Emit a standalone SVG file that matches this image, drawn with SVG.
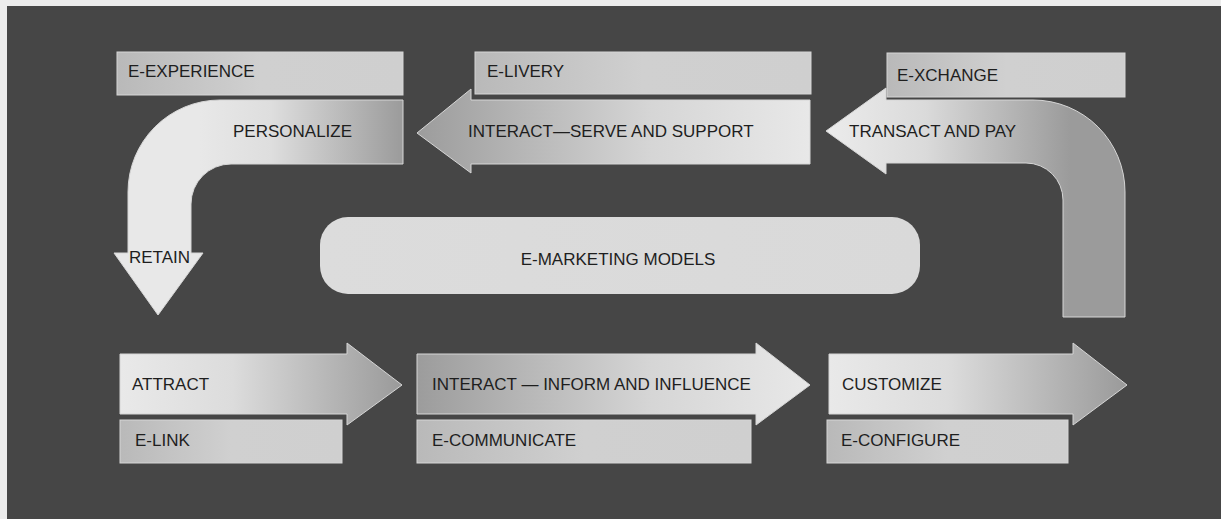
<svg xmlns="http://www.w3.org/2000/svg" width="1221" height="519" viewBox="0 0 1221 519">
<defs>
<style>
.lbl{font-family:"Liberation Sans",Arial,Helvetica,sans-serif;font-size:17px;fill:#1e1e1e}
.box{stroke:#d6d6d6;stroke-width:1}
</style>
<linearGradient id="gBox" x1="0" y1="0" x2="1" y2="0">
<stop offset="0" stop-color="#b9b9b9"/><stop offset="0.5" stop-color="#d0d0d0"/><stop offset="1" stop-color="#cfcfcf"/>
</linearGradient>
<linearGradient id="gLightDark" x1="0" y1="0" x2="1" y2="0">
<stop offset="0" stop-color="#e9e9e9"/><stop offset="0.4" stop-color="#dcdcdc"/><stop offset="1" stop-color="#9a9a9a"/>
</linearGradient>
<linearGradient id="gDarkLight" x1="0" y1="0" x2="1" y2="0">
<stop offset="0" stop-color="#9c9c9c"/><stop offset="0.6" stop-color="#d6d6d6"/><stop offset="1" stop-color="#e8e8e8"/>
</linearGradient>
<linearGradient id="gPers" gradientUnits="userSpaceOnUse" x1="200" y1="0" x2="403" y2="0">
<stop offset="0" stop-color="#e8e8e8"/><stop offset="0.35" stop-color="#dedede"/><stop offset="1" stop-color="#9b9b9b"/>
</linearGradient>
<linearGradient id="gTrans" gradientUnits="userSpaceOnUse" x1="830" y1="0" x2="1070" y2="0">
<stop offset="0" stop-color="#ebebeb"/><stop offset="0.4" stop-color="#dadada"/><stop offset="1" stop-color="#9b9b9b"/>
</linearGradient>
<linearGradient id="gModel" x1="0" y1="0" x2="1" y2="0">
<stop offset="0" stop-color="#dcdcdc"/><stop offset="1" stop-color="#d9d9d9"/>
</linearGradient>
</defs>
<rect x="0" y="0" width="1221" height="519" fill="#ececec"/>
<rect x="7" y="6" width="1214" height="513" fill="#464646"/>

<g id="connectors">
<g id="personalize-retain">
<path class="box" fill="url(#gPers)" d="M403,100 L220,100 A92,92 0 0 0 128,192 L128,253 L114,253 L158,315 L203,253 L191,253 L191,204 A40,40 0 0 1 231,164 L403,164 Z"/>
<text class="lbl" x="233" y="137">PERSONALIZE</text>
<text class="lbl" x="129" y="263">RETAIN</text>
</g>
<g id="interact-serve">
<path class="box" fill="url(#gDarkLight)" d="M417,133 L471,89 L471,100 L810,100 L810,164 L471,164 L471,173 Z"/>
<text class="lbl" x="468" y="137">INTERACT—SERVE AND SUPPORT</text>
</g>
<g id="transact-pay">
<path class="box" fill="url(#gTrans)" d="M826,131 L886,88 L886,100 L1033,100 A92,92 0 0 1 1125,192 L1125,317 L1063,317 L1063,200 A37,37 0 0 0 1026,163 L886,163 L886,174 Z"/>
<text class="lbl" x="849" y="137">TRANSACT AND PAY</text>
</g>
<g id="attract">
<path class="box" fill="url(#gLightDark)" d="M120,354 L347,354 L347,343 L402,385 L347,425 L347,414 L120,414 Z"/>
<text class="lbl" x="132" y="390">ATTRACT</text>
</g>
<g id="interact-inform">
<path class="box" fill="url(#gDarkLight)" d="M417,354 L756,354 L756,343 L810,385 L756,425 L756,414 L417,414 Z"/>
<text class="lbl" x="432" y="390">INTERACT — INFORM AND INFLUENCE</text>
</g>
<g id="customize">
<path class="box" fill="url(#gLightDark)" d="M829,354 L1073,354 L1073,343 L1127,385 L1073,425 L1073,414 L829,414 Z"/>
<text class="lbl" x="842" y="390">CUSTOMIZE</text>
</g>
</g>

<g id="e-experience">
<rect class="box" x="117" y="52" width="286" height="43" fill="url(#gBox)"/>
<text class="lbl" x="128" y="77">E-EXPERIENCE</text>
</g>
<g id="e-livery">
<rect class="box" x="475" y="52" width="336" height="42" fill="url(#gBox)"/>
<text class="lbl" x="487" y="77">E-LIVERY</text>
</g>
<g id="e-xchange">
<rect class="box" x="887" y="53" width="238" height="44" fill="url(#gBox)"/>
<text class="lbl" x="897" y="81">E-XCHANGE</text>
</g>
<g id="e-marketing-models">
<rect x="320" y="217" width="600" height="77" rx="28" ry="28" fill="url(#gModel)"/>
<text class="lbl" x="618" y="265" text-anchor="middle">E-MARKETING MODELS</text>
</g>
<g id="e-link">
<rect class="box" x="120" y="420" width="222" height="43" fill="url(#gBox)"/>
<text class="lbl" x="135" y="446">E-LINK</text>
</g>
<g id="e-communicate">
<rect class="box" x="417" y="420" width="334" height="43" fill="url(#gBox)"/>
<text class="lbl" x="432" y="446">E-COMMUNICATE</text>
</g>
<g id="e-configure">
<rect class="box" x="827" y="420" width="241" height="43" fill="url(#gBox)"/>
<text class="lbl" x="841" y="446">E-CONFIGURE</text>
</g>
</svg>
